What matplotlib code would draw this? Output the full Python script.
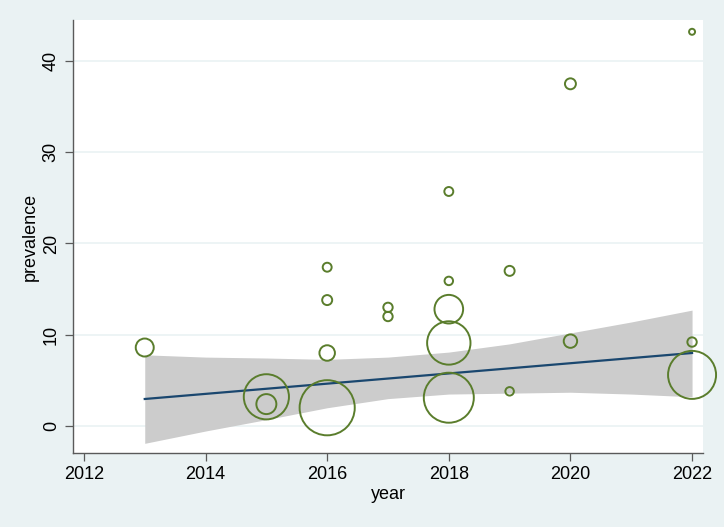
import matplotlib.pyplot as plt
import numpy as np

# Datos (anio, prevalencia, peso relativo del estudio)
anio = [2013, 2015, 2015, 2016, 2016, 2016, 2016, 2017, 2017,
        2018, 2018, 2018, 2018, 2018, 2019, 2019, 2020, 2020,
        2022, 2022, 2022]
prevalencia = [8.6, 3.2, 2.4, 2.0, 8.0, 13.8, 17.4, 13.0, 12.0,
               25.7, 15.9, 12.8, 9.1, 3.1, 17.0, 3.8, 37.5, 9.3,
               43.2, 9.2, 5.6]
peso = [81, 510, 100, 760, 60, 25, 20, 22, 22,
        20, 18, 205, 470, 625, 25, 18, 30, 45,
        9, 22, 576]

# Recta ajustada e intervalo de confianza
anio_ic = [2013, 2014, 2015, 2016, 2017, 2018, 2019, 2020, 2021, 2022]
ic_sup = [7.8, 7.55, 7.45, 7.3, 7.55, 8.1, 9.0, 10.2, 11.4, 12.7]
ic_inf = [-1.9, -0.55, 0.7, 2.0, 3.0, 3.5, 3.6, 3.7, 3.5, 3.2]
anio_fit = [2013, 2022]
fit = [2.96, 8.0]

fondo = '#eaf2f3'
verde = '#5a7d2c'
azul = '#1a476f'

fig = plt.figure(figsize=(7.24, 5.27), dpi=100, facecolor=fondo)
ax = fig.add_axes([0.1008, 0.1404, 0.8702, 0.8216])
ax.set_facecolor('white')

ax.fill_between(anio_ic, ic_inf, ic_sup, color='#cccccc', lw=0, zorder=2)
ax.plot(anio_fit, fit, color=azul, lw=1.6, zorder=3)

# tamano del marcador: area proporcional al peso
px = 0.72
tam = [(2 * np.sqrt(p) * px) ** 2 for p in peso]
ax.scatter(anio, prevalencia, s=tam, facecolors='none', edgecolors=verde,
           linewidths=1.4, zorder=4, clip_on=False)

ax.set_xlim(2011.82, 2022.18)
ax.set_ylim(-2.96, 44.49)
ax.set_xticks([2012, 2014, 2016, 2018, 2020, 2022])
ax.set_yticks([0, 10, 20, 30, 40])
ax.grid(axis='y', color=fondo, lw=1.2, zorder=1)
ax.set_axisbelow(True)

for s in ['top', 'right']:
    ax.spines[s].set_visible(False)
for s in ['left', 'bottom']:
    ax.spines[s].set_color('#5a5a5a')
    ax.spines[s].set_linewidth(1.0)

ax.tick_params(axis='both', length=5.5, width=0.9, color='#5a5a5a',
               labelsize=13, pad=4)
plt.setp(ax.get_yticklabels(), rotation=90, va='center')
for t in ax.get_xticklabels() + ax.get_yticklabels():
    t.set_fontfamily('Liberation Sans')

ax.set_xlabel('year', fontsize=13, family='Liberation Sans', labelpad=2)
ax.set_ylabel('prevalence', fontsize=13, family='Liberation Sans', labelpad=3)

fig.savefig('out.png', dpi=100, facecolor=fondo)
